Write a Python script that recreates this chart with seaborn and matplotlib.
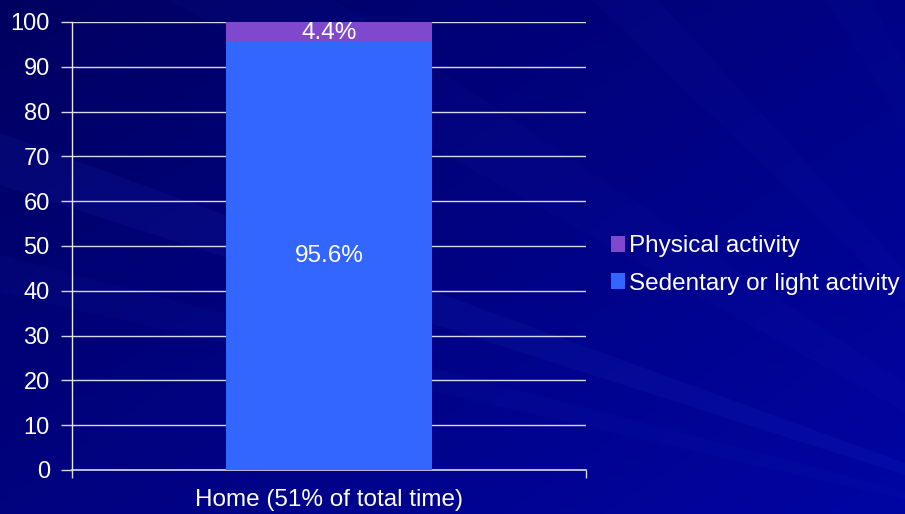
import numpy as np
import matplotlib
matplotlib.use("Agg")
import matplotlib.pyplot as plt
from matplotlib.patches import Patch, Polygon
import seaborn as sns
import pandas as pd

categories = ["Home (51% of total time)"]
sedentary = [95.6]
physical = [4.4]
series_names = ["Physical activity", "Sedentary or light activity"]
yticks = [0, 10, 20, 30, 40, 50, 60, 70, 80, 90, 100]

purple = "#8048CC"
blue = "#3366FF"
white = "#FFFFFF"

sns.set_theme(style="white")
plt.rcParams["font.family"] = ["Liberation Sans", "DejaVu Sans"]

fig = plt.figure(figsize=(9.05, 5.14), dpi=100)

# background: gradient with faint rays
bg = fig.add_axes([0, 0, 1, 1], zorder=-10)
bg.set_xlim(0, 905)
bg.set_ylim(514, 0)
bg.axis("off")
yy, xx = np.mgrid[0:514, 0:905]
t = (xx / 905 * 0.55 + yy / 514 * 0.45)
c0 = np.array([0.0, 0.0, 0.38])
c1 = np.array([0.0, 0.02, 0.64])
img = c0[None, None, :] * (1 - t[..., None]) + c1[None, None, :] * t[..., None]
bg.imshow(img, extent=[0, 905, 514, 0], aspect="auto", zorder=0)
src = (1170, 560)
rays = [(-0.55, 0.04, 0.03), (-0.80, 0.03, 0.03), (-1.05, 0.03, 0.025), (-1.35, 0.04, 0.03),
        (-0.33, 0.02, 0.07), (-0.24, 0.015, 0.04), (-1.7, 0.03, 0.03), (-2.1, 0.03, 0.03)]
for ang, half, a in rays:
    L = 2000
    p1 = (src[0] + L * np.cos(np.pi + ang - half), src[1] - L * np.sin(np.pi + ang - half))
    p2 = (src[0] + L * np.cos(np.pi + ang + half), src[1] - L * np.sin(np.pi + ang + half))
    bg.add_patch(Polygon([src, p1, p2], closed=True, facecolor="#4060ff", alpha=a,
                         edgecolor="none", zorder=1))

ax = fig.add_axes([72 / 905, 1 - 470 / 514, (586 - 72) / 905, (470 - 22) / 514])
ax.set_facecolor("none")

df = pd.DataFrame({
    "category": categories,
    "total": [s + p for s, p in zip(sedentary, physical)],
    "sedentary": sedentary,
})

sns.barplot(data=df, x="category", y="total", color=purple, saturation=1,
            width=0.4, ax=ax, zorder=3, linewidth=0, edgecolor="none")
sns.barplot(data=df, x="category", y="sedentary", color=blue, saturation=1,
            width=0.4, ax=ax, zorder=4, linewidth=0, edgecolor="none")

bars = ax.patches
top_bar = bars[0]
bot_bar = bars[1]
ax.text(top_bar.get_x() + top_bar.get_width() / 2, sedentary[0] + physical[0] / 2 - 0.3,
        f"{physical[0]}%", ha="center", va="center", color=white, fontsize=17.5, zorder=5)
ax.text(bot_bar.get_x() + bot_bar.get_width() / 2, sedentary[0] / 2,
        f"{sedentary[0]}%", ha="center", va="center", color=white, fontsize=17.5, zorder=5)

ax.set_xlim(-0.5, 0.5)
ax.set_ylim(0, 100)
ax.set_yticks(yticks)
ax.set_yticklabels([str(v) for v in yticks])
ax.set_xlabel("")
ax.set_ylabel("")
ax.yaxis.grid(True, color="#d8d8e8", linewidth=1.0, zorder=0)
ax.set_axisbelow(True)
for s in ["top", "right"]:
    ax.spines[s].set_visible(False)
ax.spines["left"].set_color("#e8e8f0")
ax.spines["bottom"].set_color("#d8d8e8")
ax.spines["left"].set_linewidth(1.0)
ax.spines["bottom"].set_linewidth(1.2)
ax.tick_params(axis="y", colors="#d8d8e8", length=8, width=1.0, labelcolor=white,
               labelsize=17, pad=8, left=True)
ax.set_xticks([-0.5, 0.5], minor=True)
ax.set_xticks([0])
ax.set_xticklabels(categories)
ax.tick_params(axis="x", which="major", length=0, labelcolor=white, labelsize=17.5, pad=14)
ax.tick_params(axis="x", which="minor", length=6, width=1.0, color="#d8d8e8", bottom=True)

handles = [Patch(facecolor=purple, edgecolor="none", label=series_names[0]),
           Patch(facecolor=blue, edgecolor="none", label=series_names[1])]
leg = fig.legend(handles=handles, loc="center left", bbox_to_anchor=(599 / 905, 1 - 265 / 514),
                 frameon=False, fontsize=17.5, handlelength=0.55, handleheight=0.6,
                 handletextpad=0.2, labelspacing=0.62, borderpad=0)
for txt in leg.get_texts():
    txt.set_color(white)

fig.savefig("out.png", dpi=100)
